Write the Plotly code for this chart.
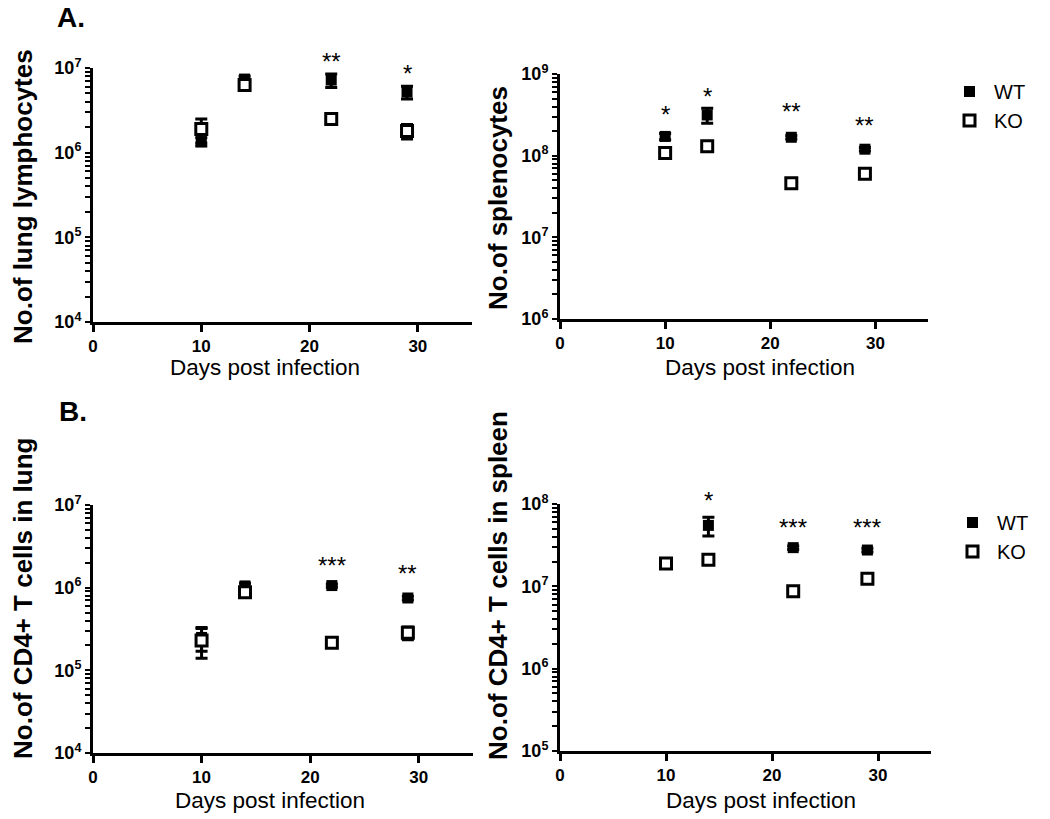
import plotly.graph_objects as go
import numpy as np

# ---------------- data ----------------
days = [10, 14, 22, 29]

# Panel A left: lung lymphocytes
lung_wt = [1.35e6, 7.4e6, 7.2e6, 5.2e6]
lung_wt_sem = [0.15e6, 0.6e6, 1.3e6, 0.9e6]
lung_ko = [1.9e6, 6.3e6, 2.5e6, 1.8e6]
lung_ko_sem = [0.6e6, 0.4e6, 0.15e6, 0.35e6]
lung_star_days = [22, 29]
lung_star_text = ["**", "*"]
lung_star_y = [1.18e7, 8.7e6]

# Panel A right: splenocytes
spl_wt = [1.72e8, 3.15e8, 1.68e8, 1.2e8]
spl_wt_sem = [0.15e8, 0.65e8, 0.08e8, 0.06e8]
spl_ko = [1.08e8, 1.3e8, 4.6e7, 6.0e7]
spl_ko_sem = [0.08e8, 0.08e8, 0.5e7, 0.4e7]
spl_star_days = [10, 14, 22, 29]
spl_star_text = ["*", "*", "**", "**"]
spl_star_y = [3.16e8, 5.25e8, 3.44e8, 2.32e8]

# Panel B left: CD4+ T cells in lung
cd4l_wt = [2.5e5, 1.05e6, 1.06e6, 7.5e5]
cd4l_wt_sem = [0.8e5, 0.08e6, 0.05e6, 0.04e6]
cd4l_ko = [2.3e5, 8.8e5, 2.15e5, 2.85e5]
cd4l_ko_sem = [0.9e5, 0.08e6, 0.15e5, 0.5e5]
cd4l_star_days = [22, 29]
cd4l_star_text = ["***", "**"]
cd4l_star_y = [1.88e6, 1.47e6]

# Panel B right: CD4+ T cells in spleen
cd4s_wt = [1.85e7, 5.5e7, 2.95e7, 2.76e7]
cd4s_wt_sem = [0.12e7, 1.4e7, 0.15e7, 0.15e7]
cd4s_ko = [1.9e7, 2.1e7, 8.7e6, 1.24e7]
cd4s_ko_sem = [0.12e7, 0.15e7, 1.2e6, 0.1e7]
cd4s_star_days = [14, 22, 29]
cd4s_star_text = ["*", "***", "***"]
cd4s_star_y = [1.09e8, 5.13e7, 5.13e7]

x_ticks = [0, 10, 20, 30]
y_titles = ["No.of lung lymphocytes", "No.of splenocytes",
            "No.of CD4+ T cells in lung", "No.of CD4+ T cells in spleen"]
x_title = "Days post infection"
decades = [(4, 7), (6, 9), (4, 7), (5, 8)]

# ---------------- layout geometry (pixels) ----------------
W, H = 1050, 819
OFF = 0  # body margin removed via post_script


def px_x(p):
    return (p - OFF) / W


def px_y(p):
    return 1 - (p - OFF) / H


boxes = [  # x0, x1, ytop, ybottom in pixels
    (93, 472, 68, 322),
    (560, 928, 74, 319),
    (93, 473, 505, 753),
    (560, 931, 504, 751),
]
FONT = "Arial, Liberation Sans, sans-serif"

fig = go.Figure()

panels = [
    (lung_wt, lung_wt_sem, lung_ko, lung_ko_sem, lung_star_days, lung_star_text, lung_star_y),
    (spl_wt, spl_wt_sem, spl_ko, spl_ko_sem, spl_star_days, spl_star_text, spl_star_y),
    (cd4l_wt, cd4l_wt_sem, cd4l_ko, cd4l_ko_sem, cd4l_star_days, cd4l_star_text, cd4l_star_y),
    (cd4s_wt, cd4s_wt_sem, cd4s_ko, cd4s_ko_sem, cd4s_star_days, cd4s_star_text, cd4s_star_y),
]

annotations = []
for i, (wt, wts, ko, kos, sd, st, sy) in enumerate(panels):
    n = i + 1
    xa = "x" if n == 1 else f"x{n}"
    ya = "y" if n == 1 else f"y{n}"
    lo, hi = decades[i]
    legend_name = "legend2" if n == 4 else "legend"
    show = n in (2, 4)
    err = dict(type="data", thickness=3, width=6, color="black")
    fig.add_trace(go.Scatter(
        x=days, y=wt, mode="markers", name="WT",
        marker=dict(symbol="square", size=11, color="black", line=dict(width=0)),
        error_y=dict(array=wts, **err),
        xaxis=xa, yaxis=ya, showlegend=show, legend=legend_name))
    fig.add_trace(go.Scatter(
        x=days, y=ko, mode="markers", name="KO",
        marker=dict(symbol="square", size=11, color="white", line=dict(width=3, color="black")),
        error_y=dict(array=kos, **err),
        xaxis=xa, yaxis=ya, showlegend=show, legend=legend_name))
    for d, t, yv in zip(sd, st, sy):
        annotations.append(dict(x=d, y=(np.log10(yv) - lo) / (hi - lo),
                                xref=xa, yref=f"{ya} domain", text=t,
                                showarrow=False, xanchor="center", yanchor="middle",
                                font=dict(family=FONT, size=24, color="black")))

    x0, x1, yt, yb = boxes[i]
    major = [10 ** k for k in range(lo, hi + 1)]
    minor = [m * 10 ** k for k in range(lo, hi) for m in range(2, 10)]
    allv = sorted(major + minor)
    alltxt = [f"<b>10<sup>{int(round(np.log10(v)))}</sup></b>" if v in major else "" for v in allv]
    sfx = "" if n == 1 else str(n)
    xdom = [px_x(x0), px_x(x1)]
    ydom = [px_y(yb), px_y(yt)]
    fig.layout[f"xaxis{sfx}"] = dict(
        domain=xdom, anchor=ya, range=[0, 35], automargin=False,
        tickmode="array", tickvals=x_ticks, ticktext=[f"<b>{v}</b>" for v in x_ticks],
        ticks="outside", ticklen=7, tickwidth=3, tickcolor="black",
        showline=True, linewidth=3, linecolor="black", showgrid=False, zeroline=False,
        tickfont=dict(family=FONT, size=17, color="black"))
    fig.layout[f"yaxis{sfx}"] = dict(
        domain=ydom, anchor=xa, type="log", range=[lo, hi],
        automargin=False,
        tickmode="array", tickvals=allv, ticktext=alltxt,
        ticks="outside", ticklen=5, tickwidth=2, tickcolor="black",
        showline=True, linewidth=3, linecolor="black", showgrid=False, zeroline=False,
        tickfont=dict(family=FONT, size=18, color="black"))
    # overlay axis carrying the longer major ticks
    fig.layout[f"yaxis{n + 4}"] = dict(
        domain=ydom, anchor=xa, overlaying=ya, type="log",
        range=[lo, hi], automargin=False, side="left",
        tickmode="array", tickvals=major, ticktext=[""] * len(major),
        ticks="outside", ticklen=8, tickwidth=3, tickcolor="black",
        showline=False, showgrid=False, zeroline=False)

# axis titles as annotations
ytitle_pos = [(23, 197), (498, 198), (23, 599), (498, 586)]
xtitle_pos = [(265, 368), (760, 368), (270, 800), (761, 800)]
for i in range(4):
    px, py = ytitle_pos[i]
    annotations.append(dict(x=px_x(px), y=px_y(py), xref="paper", yref="paper",
                            text=f"<b>{y_titles[i]}</b>", textangle=-90, showarrow=False,
                            xanchor="center", yanchor="middle",
                            font=dict(family=FONT, size=26, color="black")))
    px, py = xtitle_pos[i]
    annotations.append(dict(x=px_x(px), y=px_y(py), xref="paper", yref="paper",
                            text=x_title, showarrow=False, xanchor="center", yanchor="middle",
                            font=dict(family=FONT, size=22.5, color="black")))

for lab, (px, py) in [("A.", (71, 17)), ("B.", (73, 411))]:
    annotations.append(dict(x=px_x(px), y=px_y(py), xref="paper", yref="paper",
                            text=f"<b>{lab}</b>", showarrow=False,
                            xanchor="center", yanchor="middle",
                            font=dict(family=FONT, size=28, color="black")))

legend_style = dict(xanchor="left", yanchor="top", bgcolor="rgba(0,0,0,0)",
                    font=dict(family=FONT, size=20, color="black"),
                    itemwidth=39, tracegroupgap=0)
fig.update_layout(
    width=W, height=H, margin=dict(l=0, r=0, t=0, b=0, pad=0, autoexpand=False),
    paper_bgcolor="white", plot_bgcolor="white",
    annotations=annotations,
    legend=dict(x=px_x(945), y=px_y(72), **legend_style),
    legend2=dict(x=px_x(948), y=px_y(503), **legend_style),
    showlegend=True,
)

fig.write_html("out.html", config={"displayModeBar": False},
               post_script="document.body.style.margin='0';document.body.style.padding='0';")
